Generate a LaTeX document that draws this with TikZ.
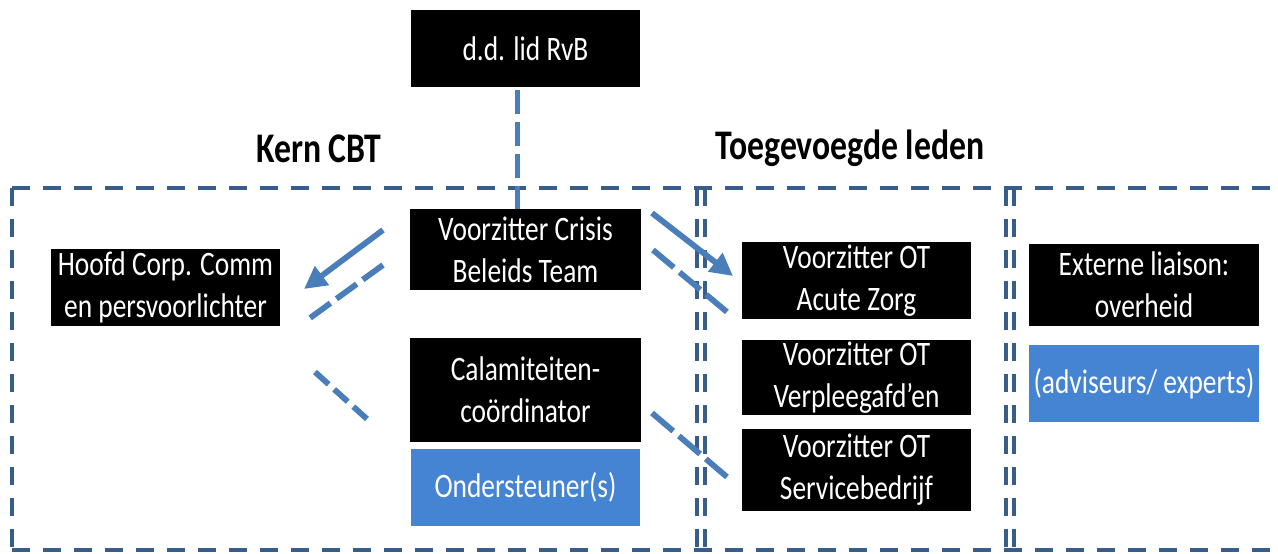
\documentclass[tikz,border=0pt]{standalone}
\usepackage{fontspec}
\setmainfont{Carlito}[FakeStretch=0.80]
\usetikzlibrary{arrows.meta}
\definecolor{frameblue}{HTML}{385D8A}
\definecolor{connblue}{HTML}{4A7EBB}
\definecolor{boxblue}{HTML}{4583D3}
\begin{document}
\begin{tikzpicture}[x=0.02cm,y=-0.02cm,
  blk/.style={fill=black,text=white,align=center,inner sep=0pt,
    minimum width=4.58cm,minimum height=1.54cm,font=\fontsize{19.5}{24}\selectfont},
  bluebox/.style={blk,fill=boxblue},
  frame/.style={draw=frameblue,line width=2.4pt,dash pattern=on 0.36cm off 0.26cm},
  conn/.style={draw=connblue,line width=3.3pt},
  dconn/.style={conn,dash pattern=on 0.48cm off 0.16cm},
  dfit/.style={conn,dash pattern=on #1 off 0.15cm},
  tip/.style={-{Triangle[length=0.45cm,width=0.45cm]}},
  heading/.style={font=\fontsize{24}{28}\selectfont\bfseries}]
\clip (0,0) rectangle (1278,554);
\fill[white] (0,0) rectangle (1278,554);

% frames
\draw[frame] (12,188) -- (1300,188);
\draw[frame] (12,550) -- (1300,550);
\draw[frame] (12,188) -- (12,550);
\draw[frame] (697,188) -- (697,550);
\draw[frame] (705,188) -- (705,550);
\draw[frame] (1006,188) -- (1006,550);
\draw[frame] (1014,188) -- (1014,550);

% headings
\node[heading] (kern) at (319,149) {Kern CBT};
\node[heading] (toeg) at (850,148) {Toegevoegde leden};

% boxes
\node[blk] (ddlid) at (525.5,48.5) {d.d. lid RvB};
\node[blk,minimum width=4.62cm,minimum height=1.62cm] (vcbt) at (525.5,249.5) {Voorzitter Crisis\\Beleids Team};
\node[blk] (hoofd) at (165.5,287.5) {Hoofd Corp. Comm\\en persvoorlichter};
\node[blk,minimum width=4.62cm,minimum height=2.08cm] (cala) at (525.5,390) {Calamiteiten-\\coördinator};
\node[bluebox] (onder) at (525.5,487.5) {Ondersteuner(s)};
\node[blk] (otaz) at (856.5,280.5) {Voorzitter OT\\Acute Zorg};
\node[blk,minimum height=1.50cm] (otvp) at (856.5,377.5) {Voorzitter OT\\Verpleegafd’en};
\node[blk,minimum height=1.64cm] (otsb) at (856.5,470) {Voorzitter OT\\Servicebedrijf};
\node[blk,minimum width=4.60cm,minimum height=1.64cm] (ext) at (1144,285) {Externe liaison:\\overheid};
\node[bluebox,minimum width=4.60cm] (adv) at (1144,383.5) {(adviseurs/ experts)};

% connector end points
\coordinate (a1s) at (383,230);
\coordinate (a1e) at (304,289);
\coordinate (d1s) at (383,265);
\coordinate (d1e) at (310,318);
\coordinate (d2s) at (315,372);
\coordinate (d2e) at (367,419);
\coordinate (a2s) at (652,213);
\coordinate (a2e) at (733,276);
\coordinate (d3s) at (653,250);
\coordinate (d3e) at (727,312);
\coordinate (d4s) at (652,413);
\coordinate (d4e) at (727,477);

% connectors
\draw[dconn] ([xshift=-0.16cm,yshift=-0.06cm]ddlid.south) -- ([xshift=-0.16cm]vcbt.north);
\draw[conn,tip] (a1s) -- (a1e);
\draw[dfit=0.5cm] (d1s) -- (d1e);
\draw[dfit=0.367cm] (d2s) -- (d2e);
\draw[conn,tip] (a2s) -- (a2e);
\draw[dfit=0.543cm] (d3s) -- (d3e);
\draw[dfit=0.557cm] (d4s) -- (d4e);
\end{tikzpicture}
\end{document}
